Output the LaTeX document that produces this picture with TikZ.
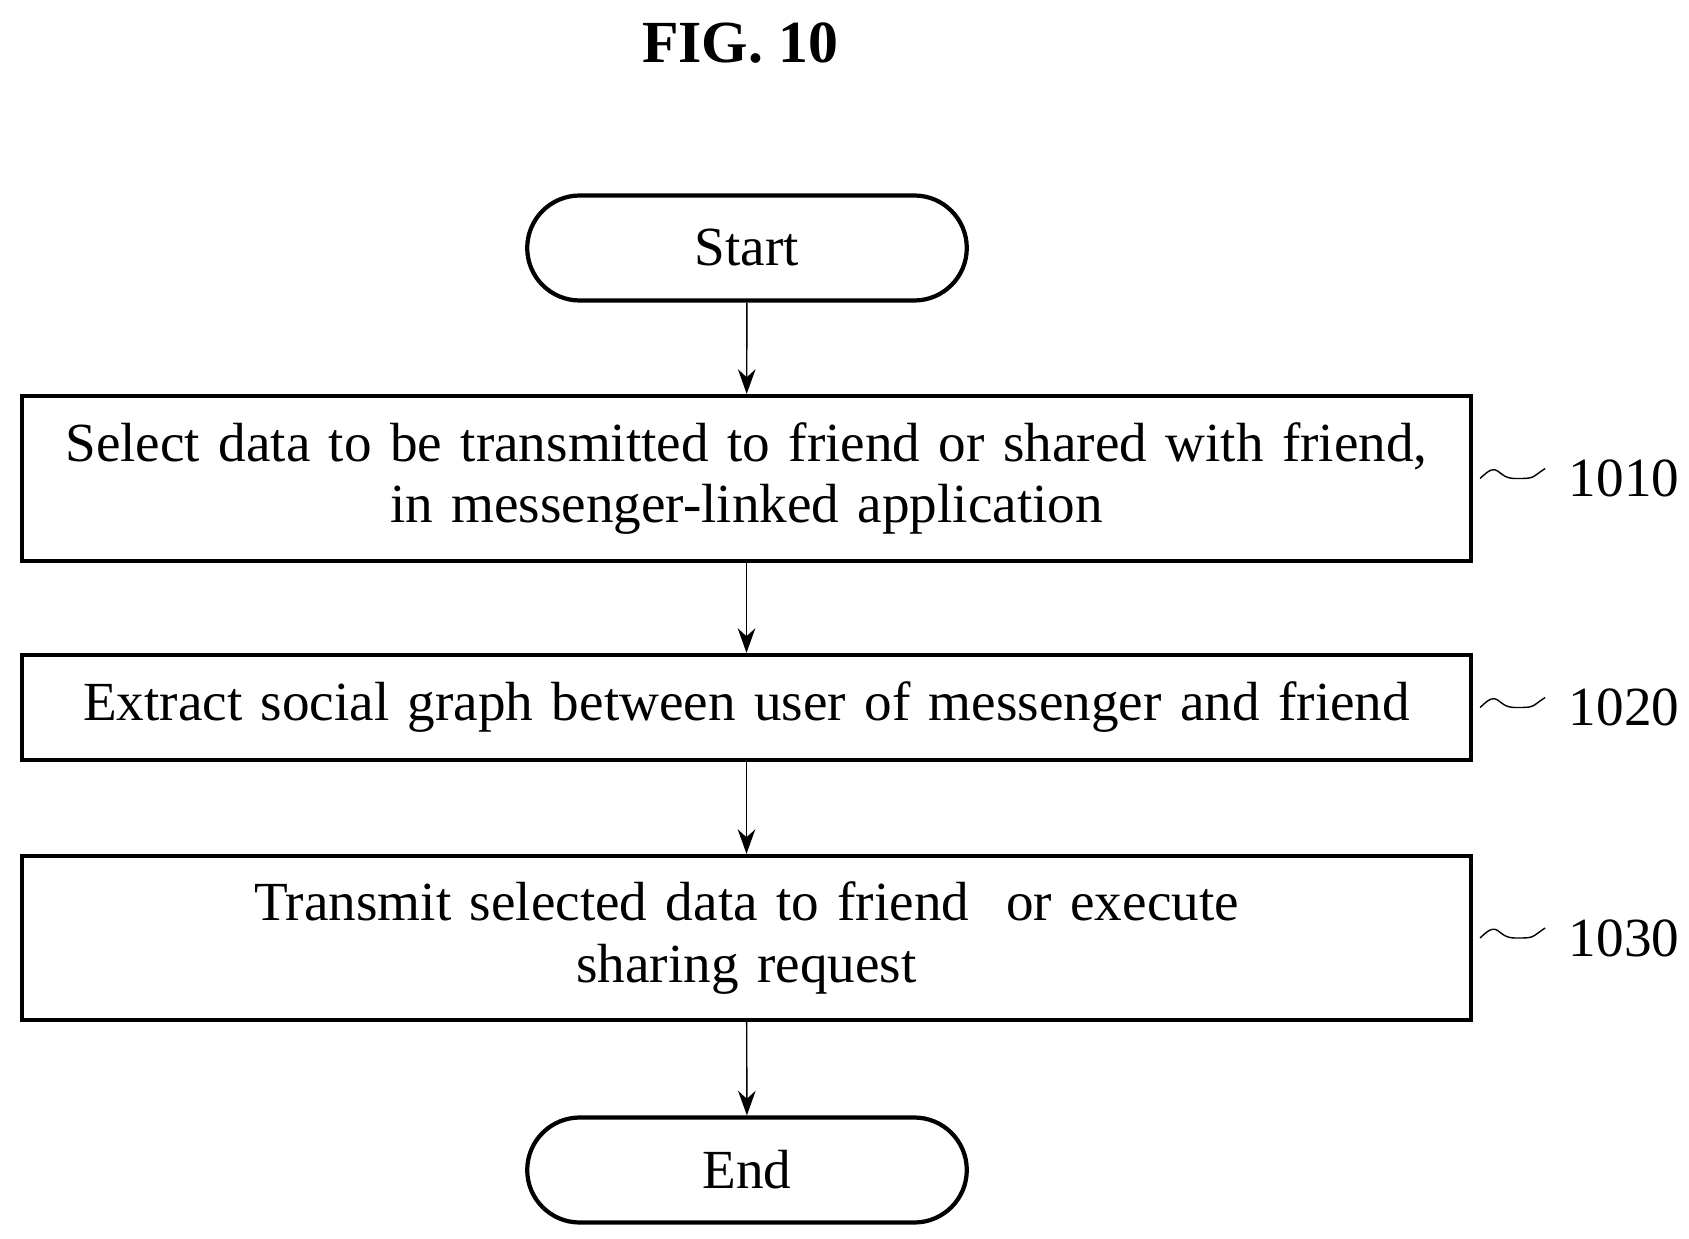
\documentclass[tikz,border=0pt]{standalone}
\usepackage{fontspec}
\setmainfont{Liberation Serif}
\usetikzlibrary{shapes.misc, arrows.meta, positioning}

\begin{document}
\begin{tikzpicture}[
    font=\fontsize{15.7}{17.5}\selectfont,
    term/.style={rounded rectangle, draw, line width=1.2pt, minimum width=4.63cm, minimum height=1.05cm},
    stepbox/.style={rectangle, draw, line width=1.2pt, minimum width=14.49cm, text width=14.2cm, align=center},
    arrow/.style={-{Stealth[length=7pt,width=5pt]}, thin},
    tilde/.style={thin}
]
\useasboundingbox (0,0) rectangle (16.89,-12.39);

% Title
\node[font=\bfseries\fontsize{17}{20}\selectfont] (title) at (7.4,-0.43) {FIG. 10};

% Terminals and steps
\node[term] (start) at (7.47,-2.48) {Start};
\node[stepbox, minimum height=1.65cm] (s1010) at (7.465,-4.785) {Select data to be transmitted to friend or shared with friend,\\ in messenger-linked application};
\node[stepbox, minimum height=1.05cm] (s1020) at (7.465,-7.075) {Extract social graph between user of messenger and friend};
\node[stepbox, minimum height=1.64cm] (s1030) at (7.465,-9.38) {Transmit selected data to friend~ or execute\\ sharing request};
\node[term] (end) at (7.47,-11.7) {End};

% Step labels
\foreach \s/\n in {s1010/1010, s1020/1020, s1030/1030} {
  \node[right=0.95cm of \s.east, inner sep=0pt] (l\n) {\n};
  \draw[tilde] (\s.east) ++(0.07,0) .. controls ++(0.2,0.2) and ++(-0.2,0) .. ++(0.35,0)
     .. controls ++(0.2,0) and ++(-0.15,-0.1) .. ++(0.3,0.1);
}

% Arrows
\draw[arrow] (start) -- (s1010);
\draw[arrow] (s1010) -- (s1020);
\draw[arrow] (s1020) -- (s1030);
\draw[arrow] (s1030) -- (end);

\end{tikzpicture}
\end{document}
